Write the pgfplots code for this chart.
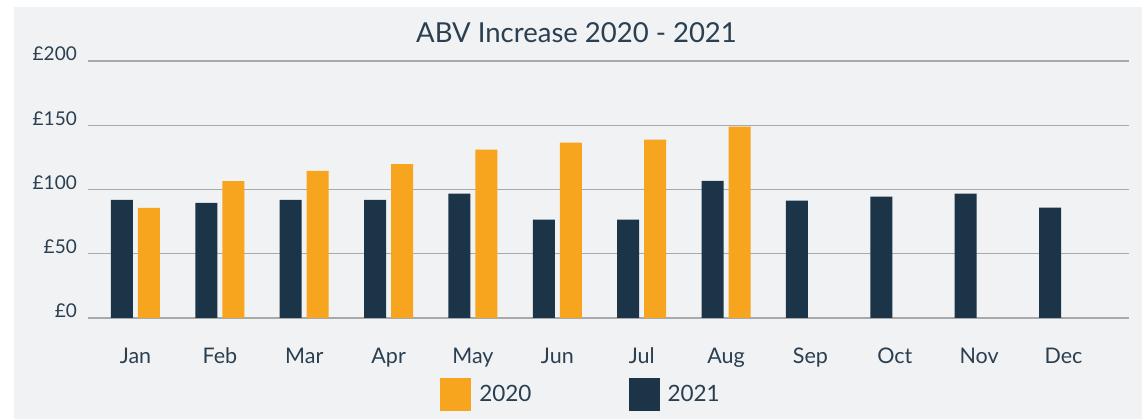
\documentclass[border=0pt]{standalone}
\usepackage{fontspec}
\setmainfont{Lato}
\usepackage{pgfplots}
\pgfplotsset{compat=1.18}
\definecolor{bg}{HTML}{F1F2F4}
\definecolor{orng}{HTML}{F7A51E}
\definecolor{navy}{HTML}{1B3447}
\definecolor{txt}{HTML}{2A3F51}
\definecolor{grd}{HTML}{A8A9AB}
\pgfplotstableread{
x y2020 y2021
0 85.6 92.0
1 106.6 89.5
2 114.4 92.0
3 119.8 92.0
4 131.0 96.7
5 136.4 76.5
6 138.8 76.5
7 148.9 106.8
8 nan 91.3
9 nan 94.4
10 nan 96.7
11 nan 85.8
}\abvdata
\begin{document}
\begin{tikzpicture}[x=1pt,y=1pt]
\fill[white] (0,0) rectangle (1142,419);
\fill[bg] (14,0) rectangle (1142,412);
\begin{axis}[
  at={(88pt,101pt)}, anchor=south west,
  scale only axis, width=1041pt, height=257pt,
  xmin=-0.563, xmax=11.776, ymin=0, ymax=200,
  ybar, bar width=22pt,
  axis line style={draw=none},
  tick style={draw=none},
  xtick={0,...,11},
  xticklabels={Jan,Feb,Mar,Apr,May,Jun,Jul,Aug,Sep,Oct,Nov,Dec},
  ytick={0,50,100,150,200},
  yticklabels={£0,£50,£100,£150,£200},
  ymajorgrids, grid style={grd, line width=1.3pt},
  xticklabel style={anchor=base, yshift=-41pt, font=\fontsize{21.5}{24}\selectfont, text=txt},
  yticklabel style={anchor=base east, inner sep=0pt, xshift=-11pt, font=\fontsize{19}{22}\selectfont, text=txt},
  unbounded coords=jump,
  legend columns=2,
  legend image code/.code={\fill[#1] (0pt,-16.5pt) rectangle (31pt,16.5pt); \path (37pt,0pt);},
  legend style={at={(axis description cs:0.4736,-0.2977)}, anchor=center, draw=none, fill=none,
    font=\fontsize{22.5}{24}\selectfont, text=txt,
    /tikz/every even column/.append style={column sep=95pt}},
]
\addplot[fill=orng, draw=none, bar shift=13.5pt] table[x=x, y=y2020] {\abvdata};
\addlegendentry{2020}
\addplot[fill=navy, draw=none, bar shift=-13.5pt] table[x=x, y=y2021] {\abvdata};
\addlegendentry{2021}
\end{axis}
\node[anchor=base, text=txt, font=\fontsize{27.5}{32}\selectfont] at (576.5,376) {ABV Increase 2020 - 2021};
\end{tikzpicture}
\end{document}
